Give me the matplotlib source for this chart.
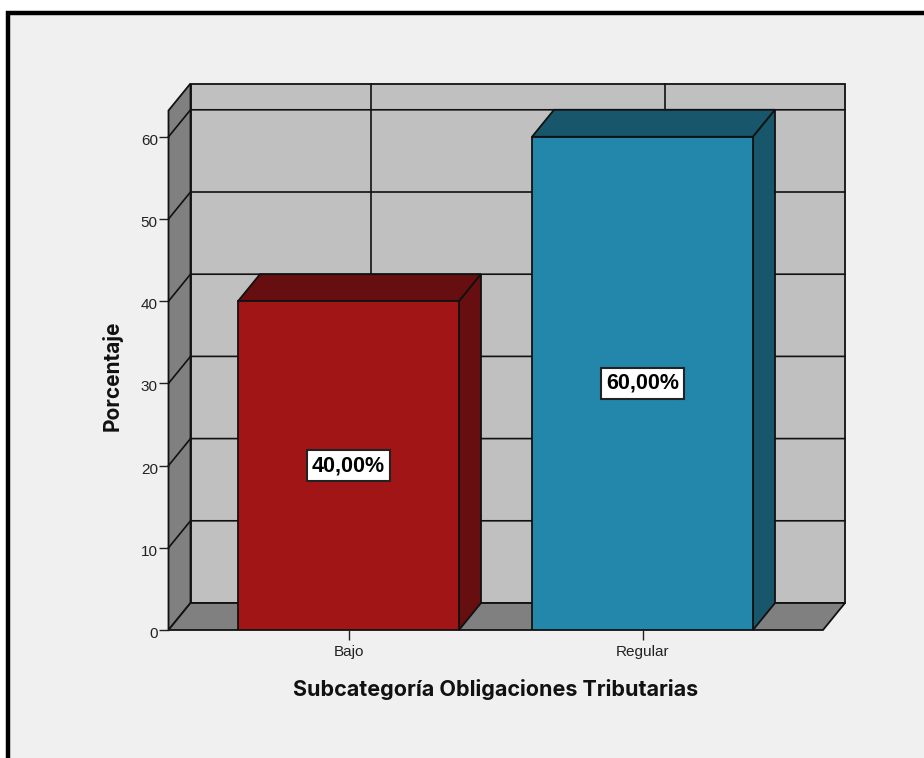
import matplotlib
matplotlib.use("Agg")
import matplotlib.pyplot as plt
from matplotlib.patches import Polygon, Rectangle
from matplotlib.transforms import ScaledTranslation

plt.rcParams['font.family'] = ['Liberation Sans', 'DejaVu Sans']

categorias = ["Bajo", "Regular"]
porcentajes = [40.0, 60.0]
etiquetas = ["40,00%", "60,00%"]
colores = ["#A21517", "#2387AC"]
colores_oscuros = ["#660E10", "#17566B"]
yticks = [0, 10, 20, 30, 40, 50, 60]

W, H = 924, 758
fig = plt.figure(figsize=(W / 100, H / 100), dpi=100, facecolor="white")

# panel gris con el borde negro arriba y a la izquierda
fig.add_artist(Rectangle((8 / W, 0), 1, 1 - 13 / H, transform=fig.transFigure,
                         facecolor="#F0F0F0", edgecolor="none", zorder=-2))
fig.add_artist(plt.Line2D([8 / W, 8 / W, 1], [0, 1 - 13 / H, 1 - 13 / H],
                          transform=fig.transFigure, color="black", lw=3.2,
                          solid_joinstyle="miter", zorder=-1))

# plano frontal del grafico en pixeles
x0, x1, y0, y1 = 168.5, 823, 630, 110.5
ax = fig.add_axes([x0 / W, 1 - y0 / H, (x1 - x0) / W, (y0 - y1) / H])
ax.patch.set_alpha(0)

sep = 294.0  # pixeles entre categorias
xmin = -(348.5 - x0) / sep
xmax = 1 + (x1 - 642.5) / sep
ymax = (y0 - y1) / 8.22
ax.set_xlim(xmin, xmax)
ax.set_ylim(0, ymax)

# profundidad 3D
dx = 22 / sep
dy = 27 / 8.22
linea = dict(edgecolor="#111111", linewidth=1.3, clip_on=False)

def poly(puntos, color, z=1):
    ax.add_patch(Polygon(puntos, closed=True, facecolor=color, zorder=z, **linea))

# paredes y suelo
poly([(xmin + dx, dy), (xmax + dx, dy), (xmax + dx, ymax + dy), (xmin + dx, ymax + dy)], "#C0C0C0")
poly([(xmin, 0), (xmin + dx, dy), (xmin + dx, ymax + dy), (xmin, ymax)], "#808080")
poly([(xmin, 0), (xmax, 0), (xmax + dx, dy), (xmin + dx, dy)], "#808080")

# rejilla
for v in yticks[1:]:
    ax.plot([xmin, xmin + dx, xmax + dx], [v, v + dy, v + dy], color="#111111",
            lw=1.2, clip_on=False, zorder=2)
for i in range(len(categorias)):
    ax.plot([i + dx, i + dx], [dy, ymax + dy], color="#111111", lw=1.2,
            clip_on=False, zorder=2)

# barras
ancho = 221 / sep
pos = list(range(len(categorias)))
ax.bar(pos, porcentajes, width=ancho, color=colores, edgecolor="#111111",
       linewidth=1.3, zorder=5)
for i, v in enumerate(porcentajes):
    a, b = i - ancho / 2, i + ancho / 2
    poly([(a, v), (b, v), (b + dx, v + dy), (a + dx, v + dy)], colores_oscuros[i], 4)
    poly([(b, 0), (b + dx, dy), (b + dx, v + dy), (b, v)], colores_oscuros[i], 4)
    ax.text(i, v / 2, etiquetas[i], ha="center", va="center", fontsize=15.5,
            fontweight="bold", color="black", zorder=7,
            bbox=dict(boxstyle="square,pad=0.24", facecolor="white",
                      edgecolor="#222222", linewidth=1.5))

for s in ax.spines.values():
    s.set_visible(False)
ax.set_xticks(pos)
ax.set_xticklabels(categorias, fontsize=11, color="#222222")
ax.set_yticks(yticks)
ax.set_yticklabels([str(v) for v in yticks], fontsize=11, color="#222222")
ax.tick_params(axis="both", length=7.2, width=1.0, color="#222222")
ax.tick_params(axis="x", pad=3.5)
ax.tick_params(axis="y", pad=0.5)
# las etiquetas del eje y van un poco mas abajo que la marca
bajar = ScaledTranslation(0, -2.5 / 100, fig.dpi_scale_trans)
for t in ax.get_yticklabels():
    t.set_transform(t.get_transform() + bajar)

fig.text(496 / W, 1 - 690 / H, "Subcategoría Obligaciones Tributarias", ha="center",
         va="center", fontsize=15.5, fontweight="bold", color="#111111", family="Inter")
fig.text(112 / W, 1 - 376 / H, "Porcentaje", ha="center", va="center", rotation=90,
         fontsize=15, fontweight="bold", color="#111111", family="Inter")

fig.savefig("out.png", dpi=100, facecolor="white")
